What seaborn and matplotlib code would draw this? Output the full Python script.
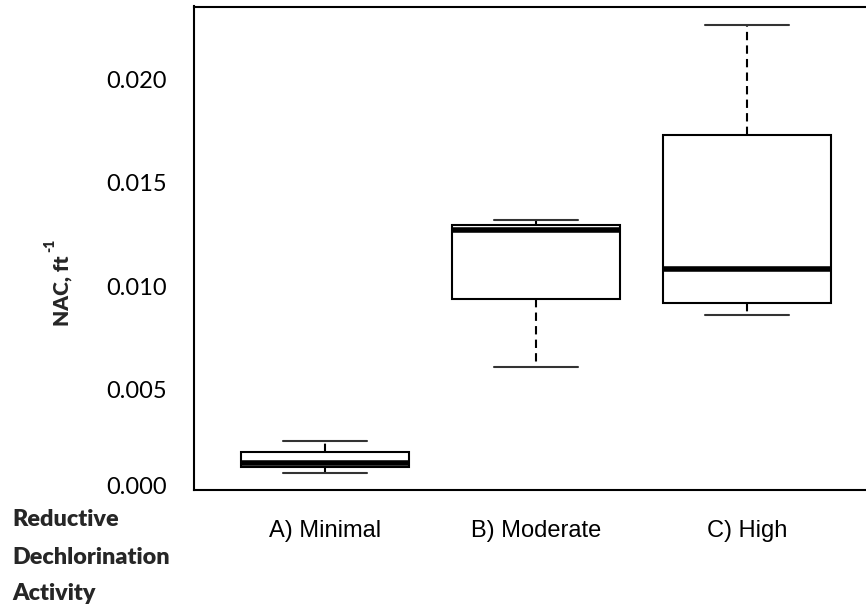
import numpy as np
import pandas as pd
import matplotlib
matplotlib.use("Agg")
import matplotlib.pyplot as plt
import seaborn as sns

# Five-number summaries per activity class: lower whisker, Q1, median, Q3, upper whisker
categories = ["A) Minimal", "B) Moderate", "C) High"]
minimal_nac = [0.00096, 0.00122, 0.00142, 0.00198, 0.00251]
moderate_nac = [0.00606, 0.00935, 0.01271, 0.01295, 0.01319]
high_nac = [0.00859, 0.00916, 0.01083, 0.01730, 0.02262]
y_ticks = [0.005, 0.010, 0.015, 0.020]
y_tick_labels = ["0.005", "0.010", "0.015", "0.020"]

df = pd.DataFrame({
    "activity": np.repeat(categories, 5),
    "nac": minimal_nac + moderate_nac + high_nac,
})

sns.set_style("white")
plt.rcParams["font.family"] = ["Lato", "DejaVu Sans"]

W, H = 866, 608
fig = plt.figure(figsize=(W / 100, H / 100), dpi=100)
ax = fig.add_axes([194 / W, 1 - 489.5 / H, (878 - 194) / W, (489.5 - 6.5) / H])

sns.boxplot(
    data=df, x="activity", y="nac", order=categories, ax=ax,
    color="white", linecolor="black", linewidth=1.5, width=0.8,
    whis=np.inf, showfliers=False, saturation=1,
    medianprops=dict(linewidth=4, color="black"),
    whiskerprops=dict(linestyle=(0, (4, 2.5)), linewidth=1.5, color="black"),
    capprops=dict(linewidth=1.5, color="#333333"),
)

ax.set_xlim(-0.621, 2.621)
ax.set_ylim(0.00015, 0.02353)
ax.set_yticks(y_ticks)
ax.set_yticklabels(y_tick_labels, fontsize=17)
ax.tick_params(axis="y", length=10.5, width=1.1, pad=9, colors="black")
ax.tick_params(axis="x", length=9.5, width=1.5, pad=12.5, colors="black")
for lab in ax.get_xticklabels():
    lab.set_fontfamily(["Liberation Sans", "DejaVu Sans"])
    lab.set_fontsize(17)

for side in ["left", "bottom", "top", "right"]:
    ax.spines[side].set_visible(True)
    ax.spines[side].set_color("black")
    ax.spines[side].set_linewidth(1.5)

ax.set_xlabel("")
ax.set_ylabel("")

# bottom tick label sits at the lower edge of the plotting area
fig.text(167 / W, 1 - 487 / H, "0.000", ha="right", va="center",
         fontsize=17, color="black")

# y-axis title with a raised exponent
fig.text(72 / W, 1 - 326 / H, "NAC, ft", rotation=90, fontsize=15,
         fontweight="heavy", ha="right", va="bottom")
fig.text(56 / W, 1 - 252 / H, "-1", rotation=90, fontsize=10,
         fontweight="heavy", ha="right", va="bottom")

bold_kw = dict(fontsize=16.8, fontweight="heavy", ha="left", va="baseline")
fig.text(12 / W, 1 - 526 / H, "Reductive", **bold_kw)
fig.text(12 / W, 1 - 564 / H, "Dechlorination", **bold_kw)
fig.text(12 / W, 1 - 600 / H, "Activity", **bold_kw)

fig.savefig("out.png", dpi=100, facecolor="white")
